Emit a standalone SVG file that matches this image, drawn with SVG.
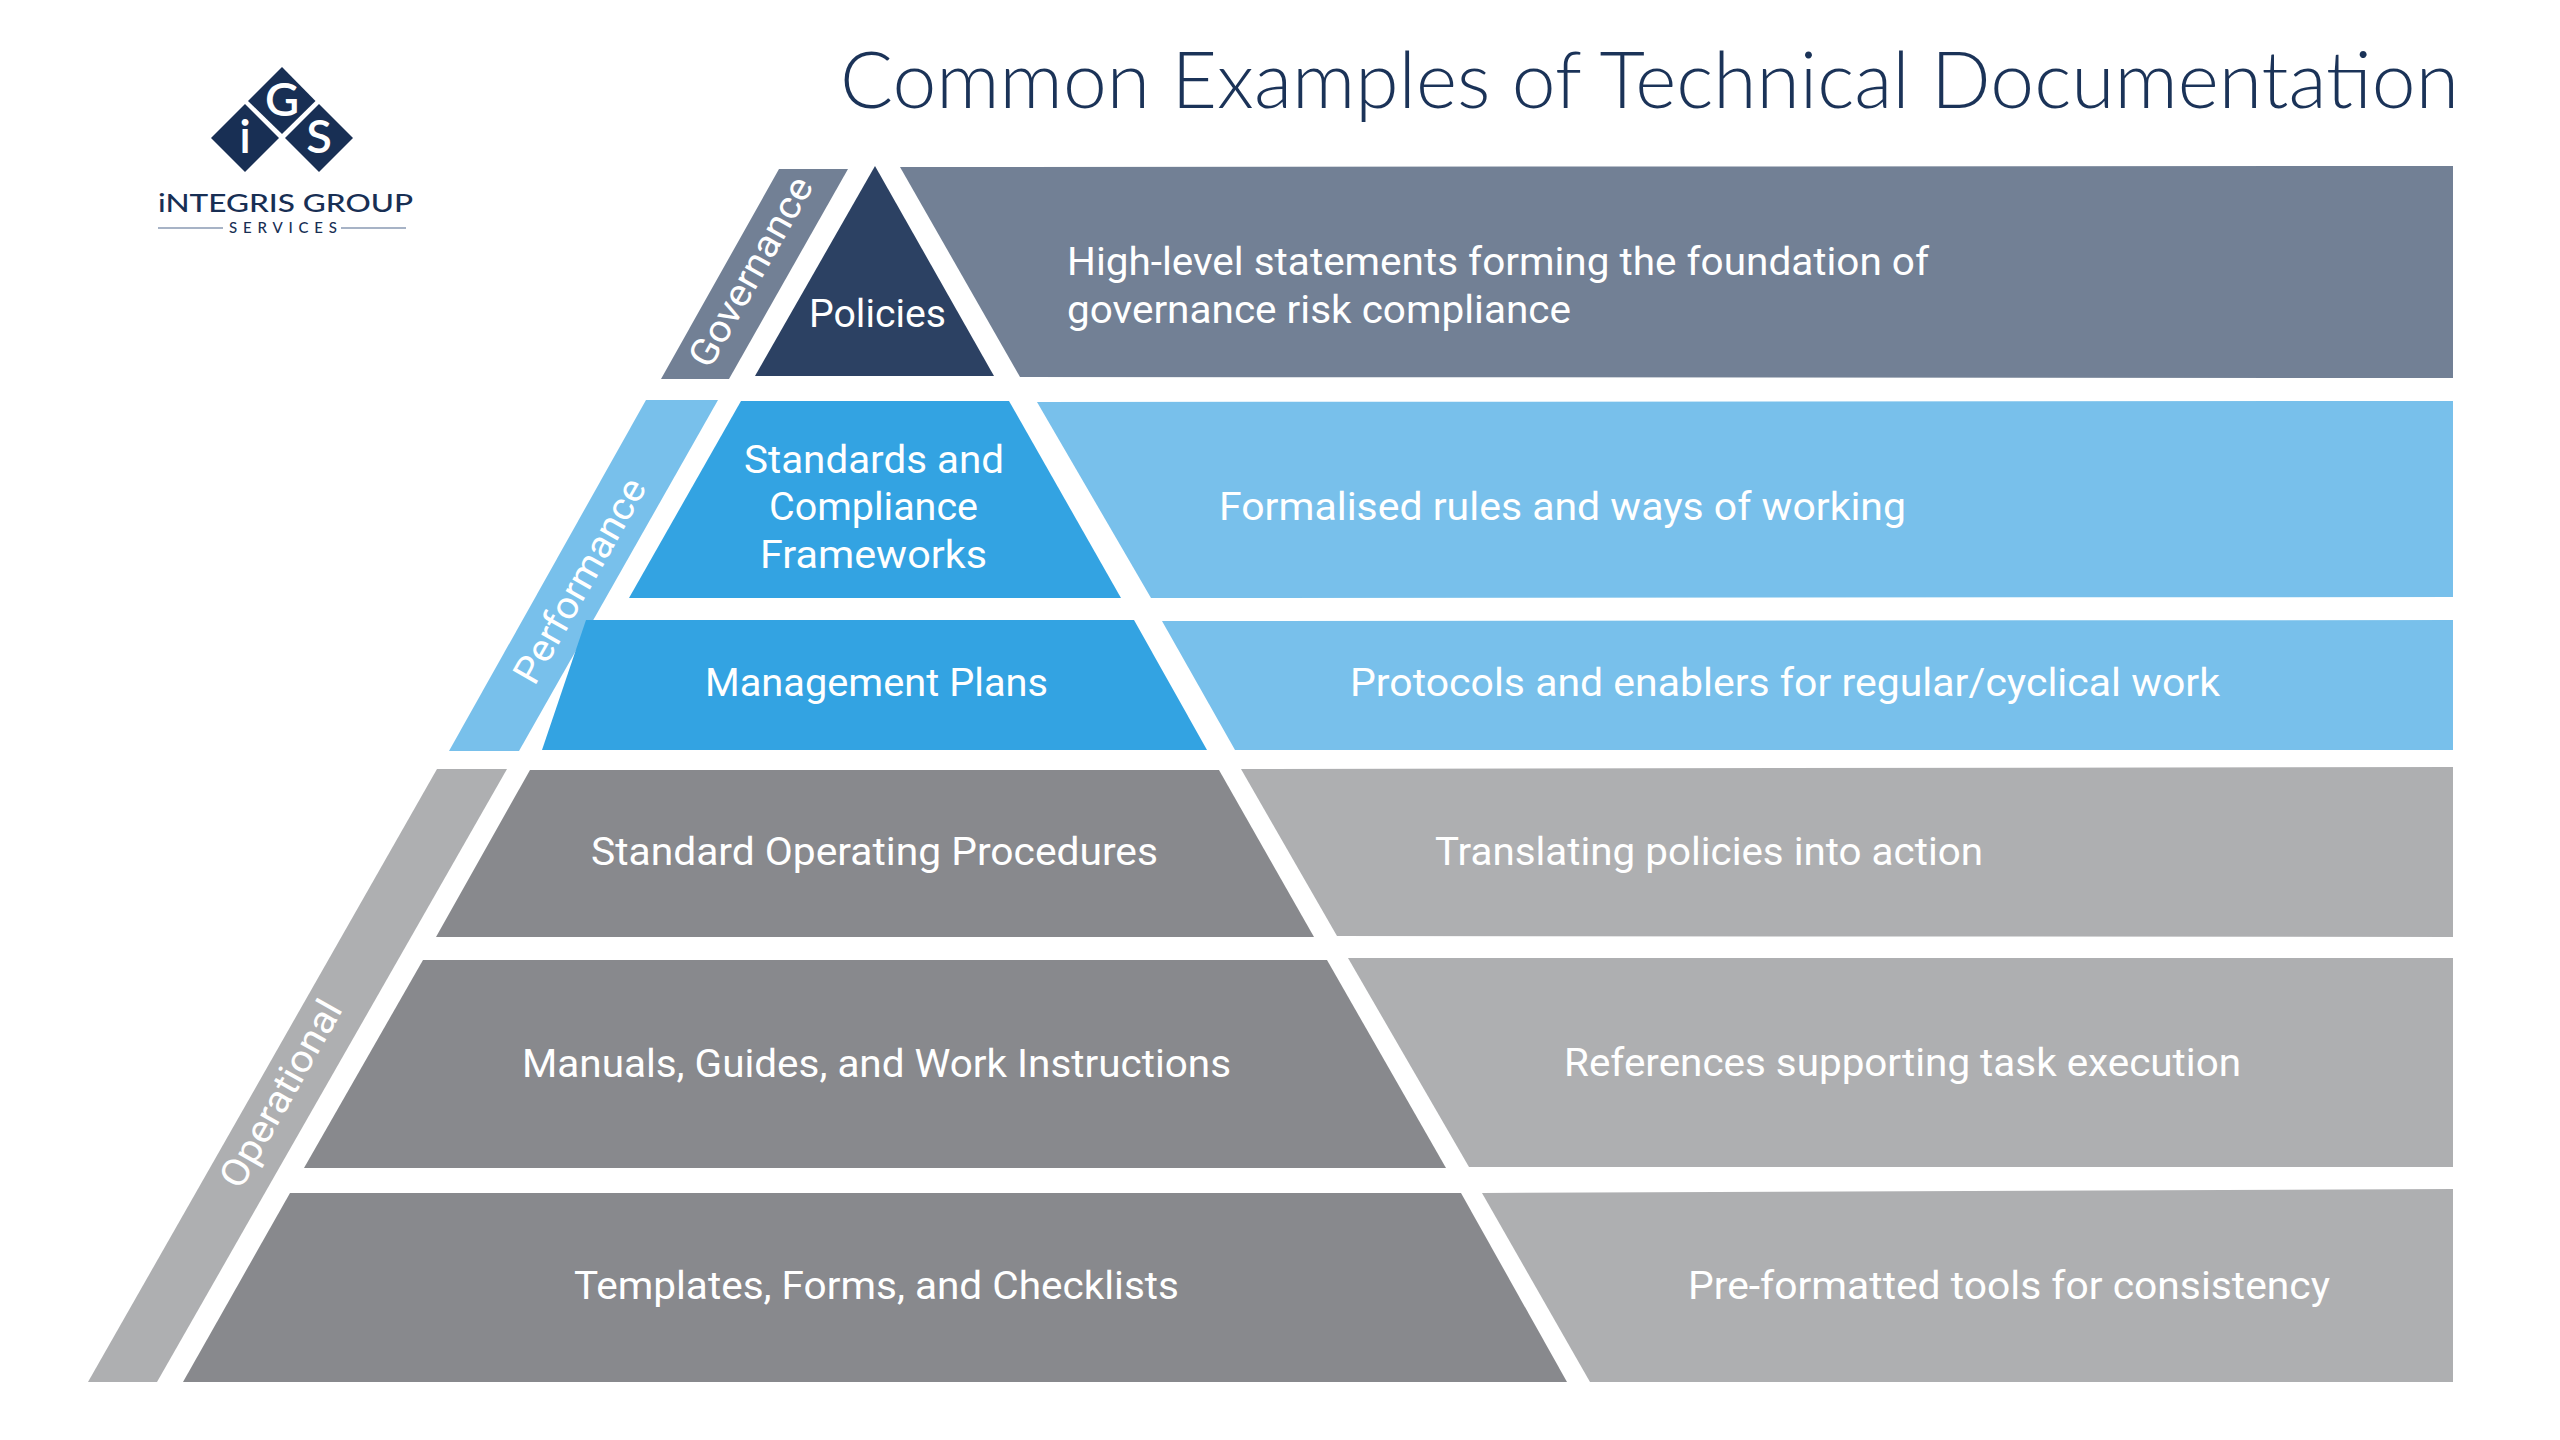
<svg xmlns="http://www.w3.org/2000/svg" width="2560" height="1440" viewBox="0 0 2560 1440">
<style>
text{font-family:"Roboto","Liberation Sans",sans-serif;fill:#fff;font-size:38px;font-weight:450}
.gov{fill:#728095}.pol{fill:#2C4163}.blue{fill:#33A3E2}.lblue{fill:#78C0EB}.dg{fill:#88898D}.lg{fill:#AEAFB1}
.title{font-family:"Lato","Carlito",sans-serif;font-weight:300;font-size:78px;fill:#1B3358}
.logo{fill:#182F54}
.lt{font-family:"Lato",sans-serif;font-weight:600;font-size:47px;text-anchor:middle}
.ln{font-family:"Lato",sans-serif;font-weight:500;fill:#182F54}
</style>
<rect width="2560" height="1440" fill="#fff"/>
<g id="logo">
<polygon class="logo" points="282,67 315.500,101 282,134 248,101"/>
<polygon class="logo" points="245,104 279,138 245,172 211,138"/>
<polygon class="logo" points="319,104 353,138 319,172 285,138"/>
<text class="lt" x="282" y="116">G</text>
<text class="lt" x="245" y="153">i</text>
<text class="lt" x="319" y="153">S</text>
<text class="ln" x="158" y="212" textLength="255" lengthAdjust="spacingAndGlyphs" style="font-size:24px">iNTEGRIS GROUP</text>
<text class="ln" x="229" y="233" textLength="108" style="font-size:15px">SERVICES</text>
<line x1="158" y1="228" x2="223" y2="228" stroke="#8a9ab3" stroke-width="1.500"/>
<line x1="341" y1="228" x2="406" y2="228" stroke="#8a9ab3" stroke-width="1.500"/>
</g>
<text id="title" class="title" x="840" y="108" textLength="1619" lengthAdjust="spacingAndGlyphs">Common Examples of Technical Documentation</text>
<g id="band-governance">
<polygon class="gov" points="779,169 848,169 729,379 661,379"/>
<text transform="translate(762,278) rotate(-60.500)" x="-106" textLength="212" lengthAdjust="spacingAndGlyphs">Governance</text>
</g>
<g id="band-performance">
<polygon class="lblue" points="646,400 718,400 519,751 449,751"/>
<text transform="translate(591,587) rotate(-60.500)" x="-114.500" textLength="229" lengthAdjust="spacingAndGlyphs">Performance</text>
</g>
<g id="band-operational">
<polygon class="lg" points="437,769 507,769 157,1382 88,1382"/>
<text transform="translate(292,1100) rotate(-60.500)" x="-104.500" textLength="209" lengthAdjust="spacingAndGlyphs">Operational</text>
</g>
<g id="node-policies">
<polygon class="pol" points="875,166 994,376 755,376"/>
<text x="809" y="327" textLength="137" lengthAdjust="spacingAndGlyphs">Policies</text>
</g>
<g id="desc-policies">
<polygon class="gov" points="900,167 2453,166 2453,378 1020,377"/>
<text x="1067" y="275" textLength="862" lengthAdjust="spacingAndGlyphs">High-level statements forming the foundation of</text>
<text x="1067" y="323" textLength="504" lengthAdjust="spacingAndGlyphs">governance risk compliance</text>
</g>
<g id="node-standards">
<polygon class="blue" points="741,401 1009,401 1121,598 629,598"/>
<text x="744" y="473" textLength="260" lengthAdjust="spacingAndGlyphs">Standards and</text>
<text x="769" y="520" textLength="209" lengthAdjust="spacingAndGlyphs">Compliance</text>
<text x="760" y="568" textLength="227" lengthAdjust="spacingAndGlyphs">Frameworks</text>
</g>
<g id="desc-standards">
<polygon class="lblue" points="1037,402 2453,401 2453,597 1151,598"/>
<text x="1219" y="520" textLength="687" lengthAdjust="spacingAndGlyphs">Formalised rules and ways of working</text>
</g>
<g id="node-management">
<polygon class="blue" points="586,620 1134,620 1207,750 542,750"/>
<text x="705" y="696" textLength="343" lengthAdjust="spacingAndGlyphs">Management Plans</text>
</g>
<g id="desc-management">
<polygon class="lblue" points="1162,621 2453,620 2453,750 1235,750"/>
<text x="1350" y="696" textLength="870" lengthAdjust="spacingAndGlyphs">Protocols and enablers for regular/cyclical work</text>
</g>
<g id="node-sop">
<polygon class="dg" points="530,770 1219,770 1314,937 436,937"/>
<text x="591" y="865" textLength="567" lengthAdjust="spacingAndGlyphs">Standard Operating Procedures</text>
</g>
<g id="desc-sop">
<polygon class="lg" points="1241,769 2453,767 2453,937 1337,936"/>
<text x="1435" y="865" textLength="548" lengthAdjust="spacingAndGlyphs">Translating policies into action</text>
</g>
<g id="node-manuals">
<polygon class="dg" points="423,960 1327,960 1446,1168 304,1168"/>
<text x="522" y="1077" textLength="709" lengthAdjust="spacingAndGlyphs">Manuals, Guides, and Work Instructions</text>
</g>
<g id="desc-manuals">
<polygon class="lg" points="1348,958 2453,958 2453,1167 1469,1167"/>
<text x="1564" y="1076" textLength="677" lengthAdjust="spacingAndGlyphs">References supporting task execution</text>
</g>
<g id="node-templates">
<polygon class="dg" points="290,1193 1461,1193 1567,1382 183,1382"/>
<text x="574" y="1299" textLength="605" lengthAdjust="spacingAndGlyphs">Templates, Forms, and Checklists</text>
</g>
<g id="desc-templates">
<polygon class="lg" points="1482,1193 2453,1189 2453,1382 1590,1382"/>
<text x="1688" y="1299" textLength="642" lengthAdjust="spacingAndGlyphs">Pre-formatted tools for consistency</text>
</g>
</svg>
